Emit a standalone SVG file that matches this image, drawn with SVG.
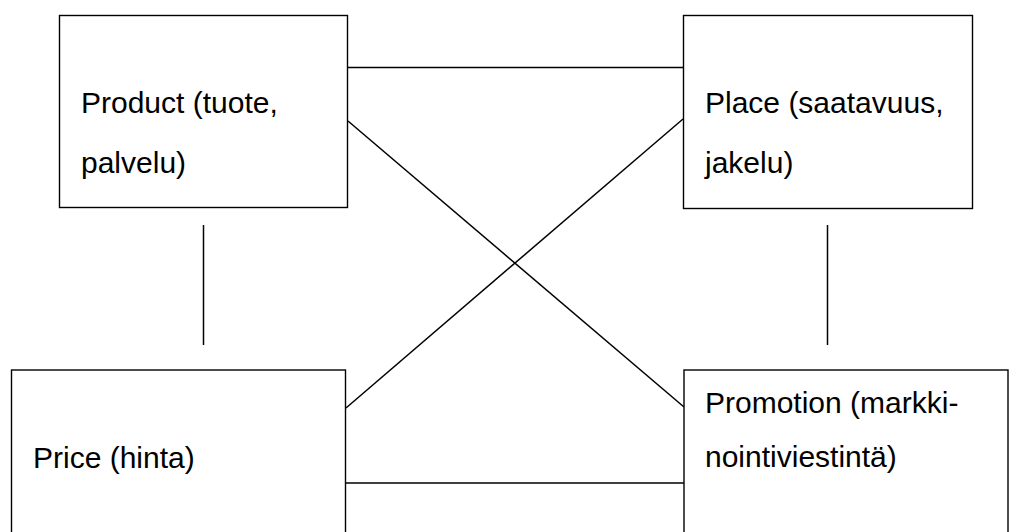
<svg xmlns="http://www.w3.org/2000/svg" width="1010" height="532" viewBox="0 0 1010 532">
  <style>
    .box { fill: #ffffff; stroke: #000000; stroke-width: 1.4; }
    .link { stroke: #000000; stroke-width: 1.5; fill: none; }
    .label { font-family: "Liberation Sans", Arial, sans-serif; font-size: 30px; fill: #000000; }
  </style>
  <rect width="1010" height="532" fill="#ffffff"/>

  <!-- connectors between the four marketing-mix elements -->
  <g id="connectors">
    <line class="link" x1="348" y1="67.5" x2="683" y2="67.5"/>
    <line class="link" x1="346" y1="483" x2="684" y2="483"/>
    <line class="link" x1="348" y1="121" x2="684" y2="407"/>
    <line class="link" x1="683" y1="119" x2="346" y2="408"/>
    <line class="link" x1="203.5" y1="225" x2="203.5" y2="345"/>
    <line class="link" x1="827.5" y1="225" x2="827.5" y2="345"/>
  </g>

  <g id="product">
    <rect class="box" x="59.5" y="15.5" width="288" height="192"/>
    <text class="label" x="81" y="113">Product (tuote,</text>
    <text class="label" x="81" y="173">palvelu)</text>
  </g>

  <g id="place">
    <rect class="box" x="683.5" y="15.5" width="289" height="193"/>
    <text class="label" x="705" y="113">Place (saatavuus,</text>
    <text class="label" x="705" y="173">jakelu)</text>
  </g>

  <g id="price">
    <rect class="box" x="11.5" y="370" width="334" height="180"/>
    <text class="label" x="33" y="468">Price (hinta)</text>
  </g>

  <g id="promotion">
    <rect class="box" x="684" y="370" width="324" height="180"/>
    <text class="label" x="705" y="413">Promotion (markki-</text>
    <text class="label" x="705" y="467">nointiviestintä)</text>
  </g>
</svg>
